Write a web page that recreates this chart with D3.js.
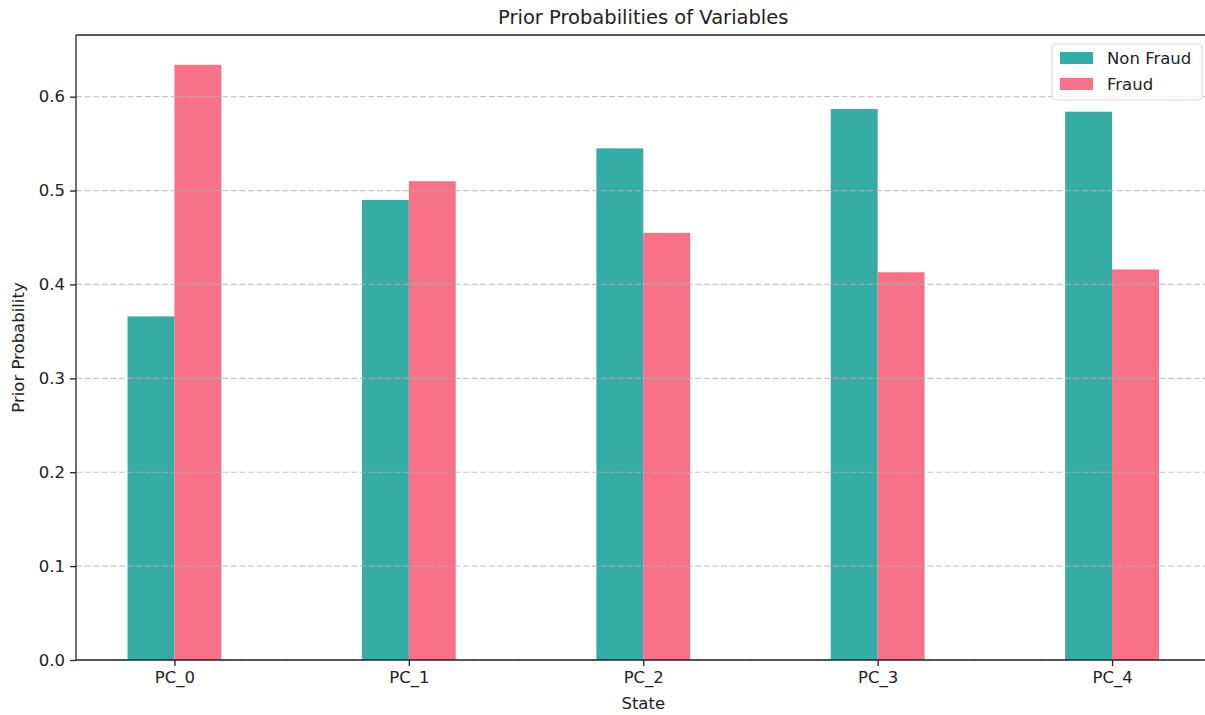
<!DOCTYPE html>
<html>
<head>
<meta charset="utf-8">
<script src="https://cdn.jsdelivr.net/npm/d3@7/dist/d3.min.js"></script>
<style>
  html, body { margin: 0; padding: 0; background: #fff; }
  svg { display: block; font-family: "DejaVu Sans", sans-serif; }
</style>
</head>
<body>
<svg id="chart" width="1205" height="715"></svg>
<script>
const categories = ["PC_0", "PC_1", "PC_2", "PC_3", "PC_4"];
const seriesNames = ["Non Fraud", "Fraud"];
const nonFraud = [0.366, 0.490, 0.545, 0.587, 0.584];
const fraud = [0.634, 0.510, 0.455, 0.413, 0.416];
const yTicks = [0.0, 0.1, 0.2, 0.3, 0.4, 0.5, 0.6];
const colors = ["#36ada4", "#f77189"];

(function () {
const svg = d3.select("#chart");
const L = 76, R = 1210.5, T = 35, B = 660;
const barW = 0.2;

const x = d3.scaleLinear().domain([-0.42, 4.42]).range([L, R]);
const yMax = d3.max([...nonFraud, ...fraud]) * 1.05;
const y = d3.scaleLinear().domain([0, yMax]).range([B, T]);

const series = [nonFraud, fraud];
const offsets = [-barW, 0];

// bars
series.forEach((vals, si) => {
  svg.append("g").selectAll("rect").data(vals).enter().append("rect")
    .attr("x", (d, i) => x(i + offsets[si]))
    .attr("width", (d, i) => x(i + offsets[si] + barW) - x(i + offsets[si]))
    .attr("y", d => y(d))
    .attr("height", d => y(0) - y(d))
    .attr("fill", colors[si]);
});

// grid (above bars)
svg.append("g").selectAll("line").data(yTicks).enter().append("line")
  .attr("x1", L).attr("x2", R)
  .attr("y1", d => y(d)).attr("y2", d => y(d))
  .attr("stroke", "#b0b0b0").attr("stroke-opacity", 0.7)
  .attr("stroke-width", 1.2)
  .attr("stroke-dasharray", "6,2.6");

// axes
const yAxis = d3.axisLeft(y).tickValues(yTicks).tickFormat(d3.format(".1f")).tickSize(6).tickPadding(5);
const gy = svg.append("g").attr("transform", `translate(${L},0)`).call(yAxis);
const xAxis = d3.axisBottom(x).tickValues(d3.range(categories.length)).tickFormat(i => categories[i]).tickSize(6).tickPadding(5);
const gx = svg.append("g").attr("transform", `translate(0,${B})`).call(xAxis);
[gx, gy].forEach(g => {
  g.select(".domain").remove();
  g.selectAll(".tick line").attr("stroke", "#222").attr("stroke-width", 1.3);
  g.selectAll(".tick text").attr("fill", "#222").style("font-size", "16.5px").style("font-family", "DejaVu Sans");
});

// spines (right spine lies outside the picture)
const sp = svg.append("g").attr("stroke", "#222").attr("stroke-width", 1.3);
sp.append("line").attr("x1", L).attr("x2", L).attr("y1", T).attr("y2", B);
sp.append("line").attr("x1", L).attr("x2", 1206).attr("y1", T).attr("y2", T);
sp.append("line").attr("x1", L).attr("x2", 1206).attr("y1", B).attr("y2", B);

// title & labels
svg.append("text").attr("x", (L + R) / 2).attr("y", 24)
  .attr("text-anchor", "middle").style("font-size", "19.5px").attr("fill", "#222")
  .text("Prior Probabilities of Variables");
svg.append("text").attr("x", (L + R) / 2).attr("y", 709)
  .attr("text-anchor", "middle").style("font-size", "16.5px").attr("fill", "#222")
  .text("State");
svg.append("text").attr("transform", `translate(24,${(T + B) / 2}) rotate(-90)`)
  .attr("text-anchor", "middle").style("font-size", "16.5px").attr("fill", "#222")
  .text("Prior Probability");

// legend
const lg = svg.append("g");
lg.append("rect").attr("x", 1052).attr("y", 44).attr("width", 150).attr("height", 56)
  .attr("rx", 4).attr("fill", "#fff").attr("fill-opacity", 0.8)
  .attr("stroke", "#d9d9d9").attr("stroke-width", 1.2);
seriesNames.forEach((name, i) => {
  lg.append("rect").attr("x", 1060).attr("y", 52 + i * 26).attr("width", 33).attr("height", 12)
    .attr("fill", colors[i]);
  lg.append("text").attr("x", 1107).attr("y", 64 + i * 26)
    .style("font-size", "16.5px").attr("fill", "#222").text(name);
});
})();
</script>
</body>
</html>
